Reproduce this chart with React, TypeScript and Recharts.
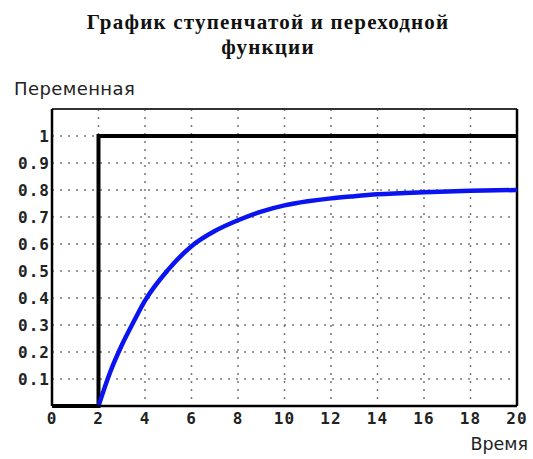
import { LineChart, Line, XAxis, YAxis, CartesianGrid, ReferenceLine } from 'recharts'

const TITLE_LINES = ['График ступенчатой и переходной', 'функции']
const Y_LABEL = 'Переменная'
const X_LABEL = 'Время'

const X_TICKS = [0, 2, 4, 6, 8, 10, 12, 14, 16, 18, 20]
const Y_TICKS = [0.1, 0.2, 0.3, 0.4, 0.5, 0.6, 0.7, 0.8, 0.9, 1]

// step input: 0 before t=2, 1 after
const STEP_T = [0, 2, 2, 20]
const STEP_Y = [0, 0, 1, 1]

// transient response
const RESP_T = [2, 2.5, 3, 3.5, 4, 5, 6, 7, 8, 9, 10, 11, 12, 13, 14, 16, 18, 20]
const RESP_Y = [0, 0.125, 0.225, 0.31, 0.39, 0.505, 0.592, 0.648, 0.688, 0.72, 0.743, 0.758, 0.769, 0.777, 0.784, 0.792, 0.797, 0.8]

const stepData = STEP_T.map((t, i) => ({ t, v: STEP_Y[i] }))
const respData = RESP_T.map((t, i) => ({ t, v: RESP_Y[i] }))

const tickStyle = {
  fontFamily: '"DejaVu Sans Mono", monospace',
  fontWeight: 'bold' as const,
  fontSize: 16,
  letterSpacing: 1,
  fill: '#222',
}

export default function App() {
  return (
    <div style={{ position: 'absolute', left: 0, top: 0, width: 533, height: 459, background: '#fff' }}>
      <div
        style={{
          position: 'absolute',
          left: 0,
          top: 10,
          width: 536,
          textAlign: 'center',
          fontFamily: '"Liberation Serif", serif',
          fontWeight: 'bold',
          fontSize: 21,
          letterSpacing: 1.2,
          lineHeight: '25px',
          color: '#111',
        }}
      >
        {TITLE_LINES.map((l) => (
          <div key={l}>{l}</div>
        ))}
      </div>
      <div
        style={{
          position: 'absolute',
          left: 14,
          top: 78,
          fontFamily: '"DejaVu Sans", sans-serif',
          fontSize: 18,
          letterSpacing: 0.4,
          color: '#222',
        }}
      >
        {Y_LABEL}
      </div>
      <div
        style={{
          position: 'absolute',
          right: 5,
          top: 434,
          fontFamily: '"DejaVu Sans", sans-serif',
          fontSize: 17.5,
          color: '#222',
        }}
      >
        {X_LABEL}
      </div>
      <LineChart
        width={533}
        height={459}
        margin={{ top: 109, right: 16, left: 0, bottom: 0 }}
        style={{ position: 'absolute', left: 0, top: 0 }}
      >
        <CartesianGrid stroke="#777" strokeDasharray="2 6" strokeWidth={1.5} />
        <XAxis
          dataKey="t"
          type="number"
          domain={[0, 20]}
          ticks={X_TICKS}
          allowDuplicatedCategory={false}
          height={53}
          tickLine={false}
          tickSize={0}
          tickMargin={7}
          axisLine={{ stroke: '#000', strokeWidth: 2.5 }}
          tick={tickStyle}
          interval={0}
        />
        <YAxis
          type="number"
          domain={[0, 1.1]}
          ticks={Y_TICKS}
          width={52}
          tickLine={false}
          tickSize={0}
          tickMargin={2}
          axisLine={{ stroke: '#000', strokeWidth: 2.5 }}
          tick={tickStyle}
          interval={0}
          tickFormatter={(v: number) => (v === 1 ? '1' : v.toFixed(1))}
        />
        <ReferenceLine y={1.1} stroke="#333" strokeWidth={2} />
        <ReferenceLine x={20} stroke="#000" strokeWidth={2.5} />
        <Line
          data={stepData}
          dataKey="v"
          type="linear"
          stroke="#000"
          strokeWidth={4}
          dot={false}
          isAnimationActive={false}
        />
        <Line
          data={respData}
          dataKey="v"
          type="monotone"
          stroke="#0a14f0"
          strokeWidth={4.5}
          dot={false}
          isAnimationActive={false}
        />
      </LineChart>
    </div>
  )
}
